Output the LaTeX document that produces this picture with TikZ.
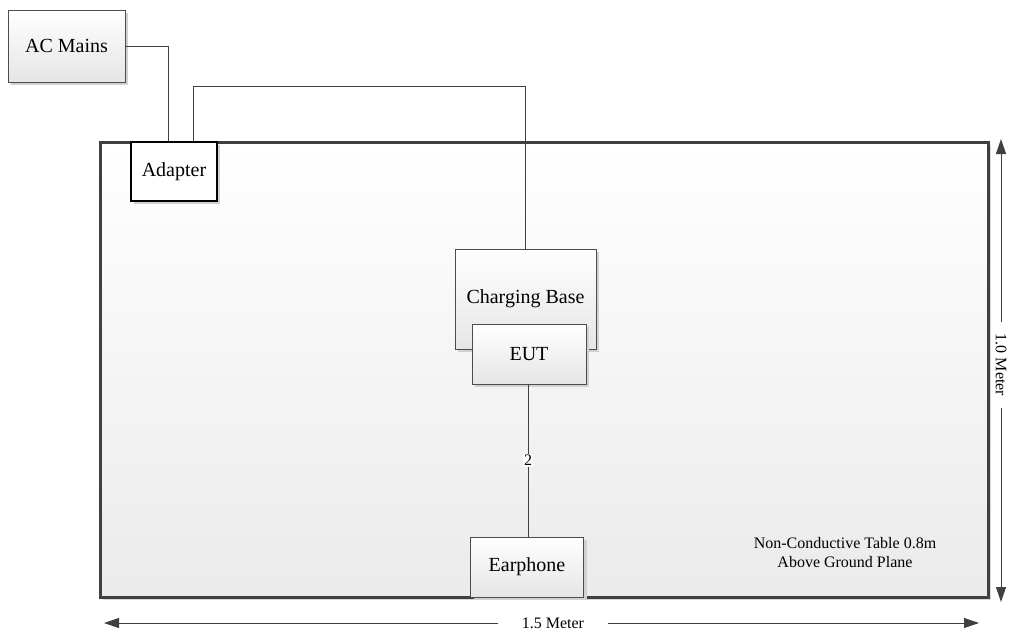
\documentclass[tikz,border=0pt]{standalone}
\usepackage{fontspec}
\setmainfont{Liberation Serif}
\usepackage{tikz}
\usetikzlibrary{arrows.meta}
\usetikzlibrary{shadows}

\tikzset{
  unit/.style={draw=black!70, top color=white, bottom color=black!10,
    minimum width=114pt, minimum height=60pt, inner sep=0pt,
    font=\fontsize{20}{24}\selectfont,
    drop shadow={shadow xshift=3pt, shadow yshift=-3pt, fill=black!18, opacity=1}},
  wire/.style={draw=black!75, line width=1pt},
  dimarrow/.style={draw=black!75, line width=1pt,
    {Triangle[length=15pt,width=10pt]}-{Triangle[length=15pt,width=10pt]}},
  dimlabel/.style={fill=white, inner sep=3pt, font=\fontsize{16}{19}\selectfont}
}

\begin{document}
\begin{tikzpicture}[x=1pt,y=-1pt]
  \useasboundingbox[fill=white] (0,0) rectangle (1013,633);

  % table
  \node[draw=black!75, line width=3pt, top color=white, bottom color=black!8,
        minimum width=888pt, minimum height=455pt, inner sep=0pt,
        drop shadow={shadow xshift=3pt, shadow yshift=-3pt, fill=black!15, opacity=1}]
        (table) at (544,369.5) {};

  \node[unit, minimum width=117pt, minimum height=72pt] (acmains) at (66.5,46) {AC Mains};
  \node[unit, fill=white, top color=white, bottom color=white, draw=black,
        line width=1.2pt, minimum width=86pt, minimum height=59pt,
        drop shadow={opacity=0}] (adapter) at (174,171.5) {Adapter};

  \node[unit, minimum width=141pt, minimum height=100pt] (base) at (525.5,299) {};
  \node[font=\fontsize{20}{24}\selectfont] (baselabel) at (525.5,299) {Charging Base};
  \node[unit] (eut) at (529,354) {EUT};
  \node[unit, minimum width=113pt] (earphone) at (527,567) {Earphone};

  \node[align=center, font=\fontsize{16}{19}\selectfont] (tablenote) at (845,553)
       {Non-Conductive Table 0.8m\\Above Ground Plane};

  % cables
  \draw[wire] (acmains.east) -| ([xshift=-6pt]adapter.north);
  \draw[wire] ([xshift=19pt]adapter.north) -- ++(0,-55) -| (base.north);
  \draw[wire] ([xshift=-1pt]eut.south) -- node[fill=white, inner sep=1pt,
       font=\fontsize{16}{19}\selectfont] (cablenum) {2}
       ([xshift=-1pt]eut.south |- earphone.north);

  % dimensions
  \coordinate (vtop) at (1001,139);
  \coordinate (vbot) at (1001,602);
  \coordinate (hleft) at (104,623);
  \coordinate (hright) at (979,623);
  \draw[dimarrow] (vtop) -- node[dimlabel, pos=0.488, rotate=-90, inner xsep=12pt] (vlabel) {1.0 Meter} (vbot);
  \draw[dimarrow] (hleft) -- node[dimlabel, pos=0.513, inner xsep=24pt] (hlabel) {1.5 Meter} (hright);
\end{tikzpicture}
\end{document}
